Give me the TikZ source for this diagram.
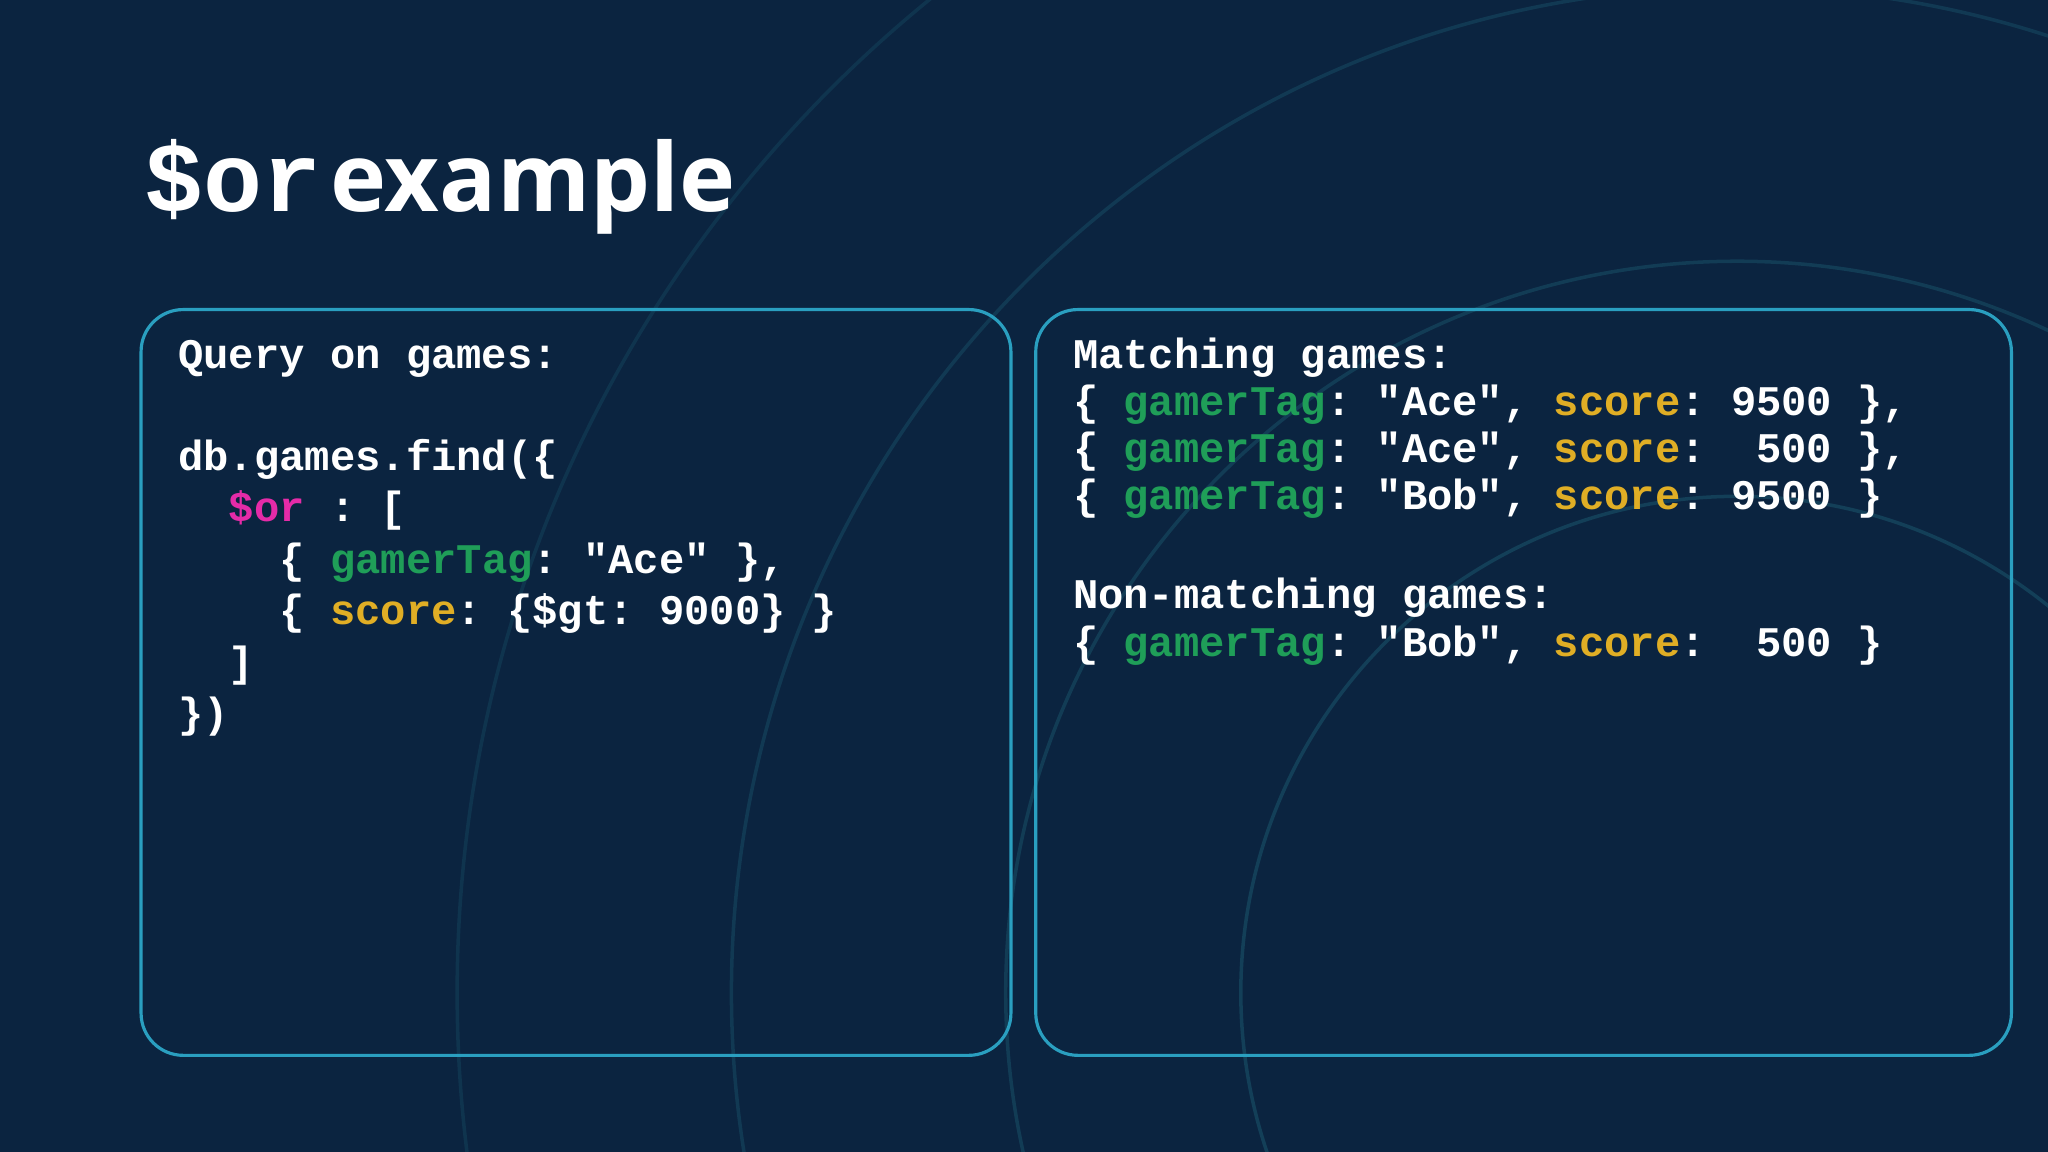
\documentclass[tikz,border=0pt]{standalone}
\usepackage{fontspec}
\setmainfont{Open Sans}
\setmonofont{Liberation Mono}
\definecolor{bg}{HTML}{0B2440}
\definecolor{frame}{HTML}{2A9FC0}
\definecolor{cg}{HTML}{1F9E58}
\definecolor{cy}{HTML}{E0AE25}
\definecolor{cm}{HTML}{E52BA8}
\definecolor{ring}{HTML}{1B5A70}
\tikzset{
  panel/.style={draw=frame, line width=0.9pt, rounded corners=12pt},
  code/.style={anchor=base west, inner sep=0pt, text=white, font=\ttfamily\bfseries\fontsize{12}{14}\selectfont},
}
\newcommand{\G}[1]{\textcolor{cg}{#1}}
\newcommand{\Y}[1]{\textcolor{cy}{#1}}
\newcommand{\M}[1]{\textcolor{cm}{#1}}
\newcommand{\myspc}[1]{\phantom{#1}}
\begin{document}
\begin{tikzpicture}[x=0.013061cm,y=-0.013061cm]
\fill[bg] (0,0) rectangle (1568,882);
\useasboundingbox (0,0) rectangle (1568,882);
\begin{scope}
\clip (0,0) rectangle (1568,882);
\foreach \r/\o in {380/0.5,560/0.45,770/0.4,980/0.3}{
  \draw[ring, line width=1pt, opacity=\o] (1330,760) circle (\r);
}
\end{scope}
\node[anchor=base west, inner sep=0pt, text=white] (title) at (110,162)
  {{\ttfamily\bfseries\fontsize{28}{34}\selectfont \$or} {\bfseries\fontsize{27}{34}\selectfont example}};
\draw[panel] (108,237) rectangle (774,808);
\draw[panel] (793,237) rectangle (1540,808);
% left code
\node[code] (l1) at (136,282) {Query on games:};
\node[code] (l2) at (136,360) {db.games.find(\{};
\node[code] (l3) at (136,399) {\myspc{xx}\M{\$or} : [};
\node[code] (l4) at (136,439) {\myspc{xxxx}\{ \G{gamerTag}: "Ace" \},};
\node[code] (l5) at (136,478) {\myspc{xxxx}\{ \Y{score}: \{\$gt: 9000\} \}};
\node[code] (l6) at (136,518) {\myspc{xx}]};
\node[code] (l7) at (136,557) {\})};
% right code
\node[code] (r1) at (821,282) {Matching games:};
\node[code] (r2) at (821,318) {\{ \G{gamerTag}: "Ace", \Y{score}: 9500 \},};
\node[code] (r3) at (821,354) {\{ \G{gamerTag}: "Ace", \Y{score}: \myspc{x}500 \},};
\node[code] (r4) at (821,390) {\{ \G{gamerTag}: "Bob", \Y{score}: 9500 \}};
\node[code] (r5) at (821,466) {Non-matching games:};
\node[code] (r6) at (821,503) {\{ \G{gamerTag}: "Bob", \Y{score}: \myspc{x}500 \}};
\end{tikzpicture}
\end{document}
